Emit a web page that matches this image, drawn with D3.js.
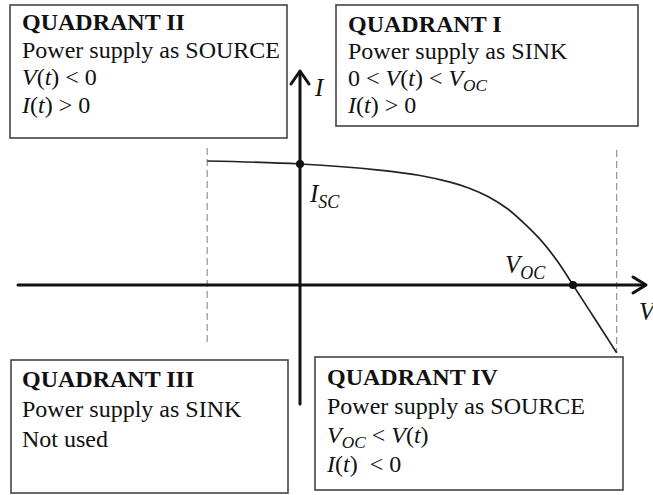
<!DOCTYPE html>
<html>
<head>
<meta charset="utf-8">
<script src="https://cdn.jsdelivr.net/npm/d3@7"></script>
<style>
  html, body { margin: 0; padding: 0; background: #fff; }
  svg { display: block; }
</style>
</head>
<body>
<svg id="chart" width="653" height="495"></svg>
<script>
// I–V characteristic of a power supply, normalised so that V_OC = 1 and I_SC = 1
const voltage = [-0.34, 0, 0.29, 0.44, 0.55, 0.62, 0.69, 0.76, 0.83, 0.89, 0.945, 1.0, 1.06, 1.12, 1.16];
const current = [1.025, 1.0, 0.95, 0.905, 0.85, 0.80, 0.73, 0.63, 0.49, 0.35, 0.19, 0, -0.21, -0.42, -0.56];

// marked operating points
const markers = [
  { name: "ISC", v: 0, i: 1 },
  { name: "VOC", v: 1, i: 0 }
];

// limits of the measured range (dashed guides)
const guideVoltages = [voltage[0], voltage[voltage.length - 1]];

// quadrant captions; each line is a list of [text, style] parts
// style: i = italic, s = italic subscript, r = regular
const quadrantTitles = ["QUADRANT II", "QUADRANT I", "QUADRANT III", "QUADRANT IV"];
const quadrantLines = [
  [
    [["Power supply as SOURCE", "r"]],
    [["V", "i"], ["(", "r"], ["t", "i"], [") < 0", "r"]],
    [["I", "i"], ["(", "r"], ["t", "i"], [") > 0", "r"]]
  ],
  [
    [["Power supply as SINK", "r"]],
    [["0 < ", "r"], ["V", "i"], ["(", "r"], ["t", "i"], [") < ", "r"], ["V", "i"], ["OC", "s"]],
    [["I", "i"], ["(", "r"], ["t", "i"], [") > 0", "r"]]
  ],
  [
    [["Power supply as SINK", "r"]],
    [["Not used", "r"]]
  ],
  [
    [["Power supply as SOURCE", "r"]],
    [["V", "i"], ["OC", "s"], [" < ", "r"], ["V", "i"], ["(", "r"], ["t", "i"], [")", "r"]],
    [["I", "i"], ["(", "r"], ["t", "i"], [")  < 0", "r"]]
  ]
];

const FONT = '"Liberation Serif"';
const SIZE = 24;

const svg = d3.select("#chart");

const x = d3.scaleLinear().domain([0, 1]).range([300, 573]);
const y = d3.scaleLinear().domain([0, 1]).range([285, 164]);

function styledText(parent, tx, ty, size) {
  return parent.append("text").attr("x", tx).attr("y", ty)
    .style("font-family", FONT)
    .attr("font-size", size)
    .attr("fill", "#111");
}

function writeLine(parent, tx, ty, parts, size) {
  const t = styledText(parent, tx, ty, size).style("white-space", "pre");
  let shifted = false;
  parts.forEach(([str, style]) => {
    const ts = t.append("tspan").text(str);
    if (style === "i" || style === "s") ts.style("font-style", "italic");
    if (style === "s") {
      ts.attr("font-size", size * 0.72).attr("dy", size * 0.22);
      shifted = true;
    } else if (shifted) {
      ts.attr("dy", -size * 0.22);
      shifted = false;
    }
  });
  return t;
}

// ---- quadrant boxes ----
const boxes = [
  { x0: 10, y0: 5, x1: 287, y1: 138, tx: 22, base: 30, step: 27.5 },
  { x0: 336, y0: 5, x1: 638, y1: 126, tx: 348, base: 32, step: 27 },
  { x0: 11, y0: 360, x1: 288, y1: 493, tx: 22, base: 387, step: 30 },
  { x0: 315, y0: 357, x1: 623, y1: 490, tx: 327, base: 385, step: 29 }
];

boxes.forEach((b, k) => {
  svg.append("rect")
    .attr("x", b.x0).attr("y", b.y0)
    .attr("width", b.x1 - b.x0).attr("height", b.y1 - b.y0)
    .attr("fill", "#fff").attr("stroke", "#444").attr("stroke-width", 1.6);

  styledText(svg, b.tx, b.base, SIZE)
    .style("font-weight", "bold")
    .text(quadrantTitles[k]);

  quadrantLines[k].forEach((parts, j) => {
    writeLine(svg, b.tx, b.base + b.step * (j + 1), parts, SIZE);
  });
});

// ---- dashed guides at the ends of the curve ----
const guideSpan = [[148, 345], [150, 353]];
guideVoltages.forEach((v, k) => {
  svg.append("line")
    .attr("x1", x(v)).attr("x2", x(v))
    .attr("y1", guideSpan[k][0]).attr("y2", guideSpan[k][1])
    .attr("stroke", "#888").attr("stroke-width", 1.1)
    .attr("stroke-dasharray", "7,4");
});

// ---- axes ----
const axisG = svg.append("g").attr("stroke", "#111").attr("stroke-width", 3)
  .attr("fill", "none").attr("stroke-linecap", "round").attr("stroke-linejoin", "round");
axisG.append("line").attr("x1", 18).attr("x2", 645).attr("y1", y(0)).attr("y2", y(0));
axisG.append("line").attr("x1", x(0)).attr("x2", x(0)).attr("y1", 404).attr("y2", 72);
axisG.append("path").attr("d", `M${633},${y(0) - 8}L${646},${y(0)}L${633},${y(0) + 8}`);
axisG.append("path").attr("d", `M${x(0) - 9},${84}L${x(0)},${71}L${x(0) + 9},${84}`);

styledText(svg, 315, 96, 25).style("font-style", "italic").text("I");
styledText(svg, 639, 320, 25).style("font-style", "italic").text("V");

// ---- I–V curve ----
const pts = voltage.map((v, k) => [v, current[k]]);
svg.append("path")
  .datum(pts)
  .attr("fill", "none").attr("stroke", "#222").attr("stroke-width", 1.7)
  .attr("d", d3.line().x(d => x(d[0])).y(d => y(d[1])).curve(d3.curveCatmullRom.alpha(0.5)));

// ---- operating points ----
svg.selectAll("circle.pt").data(markers).join("circle")
  .attr("class", "pt")
  .attr("cx", d => x(d.v)).attr("cy", d => y(d.i)).attr("r", 4)
  .attr("fill", "#111");

writeLine(svg, 310, 202, [["I", "i"], ["SC", "s"]], 25);
writeLine(svg, 505, 273, [["V", "i"], ["OC", "s"]], 25);
</script>
</body>
</html>
